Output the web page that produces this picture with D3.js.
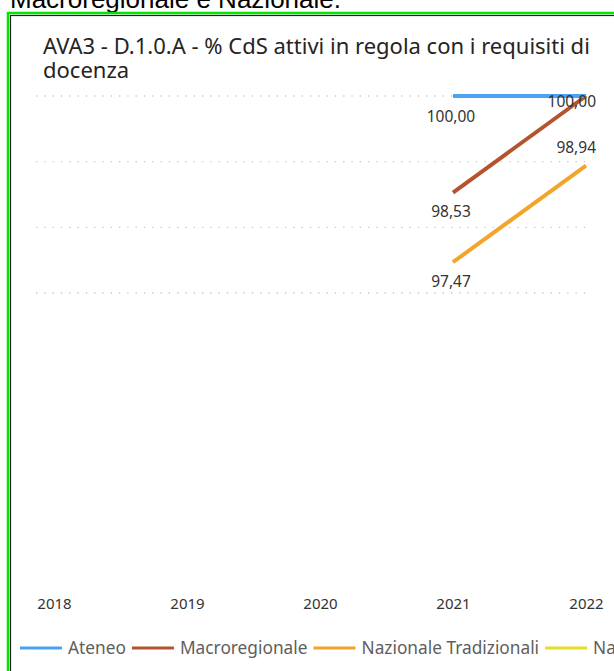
<!DOCTYPE html>
<html><head><meta charset="utf-8">
<script src="https://cdn.jsdelivr.net/npm/d3@7"></script>
<style>
html,body{margin:0;padding:0;background:#fff;overflow:hidden;}
svg{display:block;}
</style></head>
<body>
<svg id="chart" width="614" height="671"></svg>
<script>
const years = ["2018","2019","2020","2021","2022"];
const seriesNames = ["Ateneo","Macroregionale","Nazionale Tradizionali","Nazionale Telematici"];
const ateneo = [null,null,null,100.00,100.00];
const macroregionale = [null,null,null,98.53,100.00];
const nazionaleTradizionali = [null,null,null,97.47,98.94];
const nazionaleTelematici = [null,null,null,null,null];
const yTicks = [97,98,99,100];
const colors = ["#4AA3F2","#B4532E","#F2A52A","#E8DC2A"];

const allSeries = [ateneo, macroregionale, nazionaleTradizionali, nazionaleTelematici];
const svg = d3.select("#chart");
const it = d3.formatLocale({decimal:",",thousands:".",grouping:[3],currency:["€",""]});
const fmt = it.format(".2f");
const font = "'Noto Sans', 'Open Sans', sans-serif";

// heading fragment above frame
svg.append("text").attr("x",10).attr("y",8)
  .attr("font-family","Liberation Sans, Arial, sans-serif").attr("font-size",26).attr("fill","#000")
  .text("Macroregionale e Nazionale.");

// frame
svg.append("rect").attr("x",8).attr("y",13).attr("width",640).attr("height",700)
  .attr("fill","#fff").attr("stroke","#00E400").attr("stroke-width",2.5);
svg.append("rect").attr("x",10.5).attr("y",15.5).attr("width",640).attr("height",700)
  .attr("fill","none").attr("stroke","#222").attr("stroke-width",1.2);

// title
svg.append("text").attr("x",43).attr("y",54).attr("font-family",font)
  .attr("font-size",22).attr("fill","#252423")
  .text("AVA3 - D.1.0.A - % CdS attivi in regola con i requisiti di");
svg.append("text").attr("x",43).attr("y",78).attr("font-family",font)
  .attr("font-size",22).attr("fill","#252423")
  .text("docenza");

const x = d3.scalePoint().domain(years).range([54,586]);
const y = d3.scaleLinear().domain([97,100]).range([293,96]);

// gridlines
svg.append("g").selectAll("line").data(yTicks).join("line")
  .attr("x1",36).attr("x2",592)
  .attr("y1",d=>y(d)).attr("y2",d=>y(d))
  .attr("stroke","#C8C8C8").attr("stroke-width",1.3)
  .attr("stroke-dasharray","1.3,7");

// x axis
const xAxis = svg.append("g").attr("transform","translate(0,598)")
  .call(d3.axisBottom(x).tickSize(0).tickPadding(0));
xAxis.select(".domain").remove();
xAxis.selectAll("text").attr("font-family",font)
  .attr("font-size",15).attr("fill","#333").attr("dy","0.71em");

// lines
const line = d3.line().defined(d=>d.v!=null).x(d=>x(d.year)).y(d=>y(d.v));
const drawOrder = [2,1,0,3];
drawOrder.forEach(si=>{
  const pts = years.map((yr,i)=>({year:yr,v:allSeries[si][i]}));
  svg.append("path").datum(pts).attr("d",line)
    .attr("fill","none").attr("stroke",colors[si]).attr("stroke-width",4)
    .attr("stroke-linecap","butt");
});

// data labels: placement per series/year (dx, dy, anchor), null = hidden
const placement = {
  0: {"2021":[-2,26,"middle"], "2022":null},
  1: {"2021":[-2,24,"middle"], "2022":[10,11,"end"]},
  2: {"2021":[-2,25,"middle"], "2022":[10,-13,"end"]},
  3: {}
};
allSeries.forEach((s,si)=>{
  years.forEach((yr,i)=>{
    const v = s[i];
    if(v==null) return;
    const p = placement[si][yr];
    if(!p) return;
    svg.append("text").attr("x",x(yr)+p[0]).attr("y",y(v)+p[1])
      .attr("text-anchor",p[2]).attr("font-family",font).attr("font-size",15.5)
      .attr("fill","#333").text(fmt(v));
  });
});

// legend
const legend = svg.append("g").attr("transform","translate(20,648)");
let lx = 0;
seriesNames.forEach((n,i)=>{
  const g = legend.append("g").attr("transform",`translate(${lx},0)`);
  g.append("line").attr("x1",0).attr("x2",42).attr("y1",0).attr("y2",0)
    .attr("stroke",colors[i]).attr("stroke-width",3);
  const t = g.append("text").attr("x",48).attr("y",0).attr("dy","0.35em")
    .attr("font-family",font).attr("font-size",17.3).attr("fill","#605E5C").text(n);
  lx += 48 + t.node().getComputedTextLength() + 6;
});
</script>
</body></html>
